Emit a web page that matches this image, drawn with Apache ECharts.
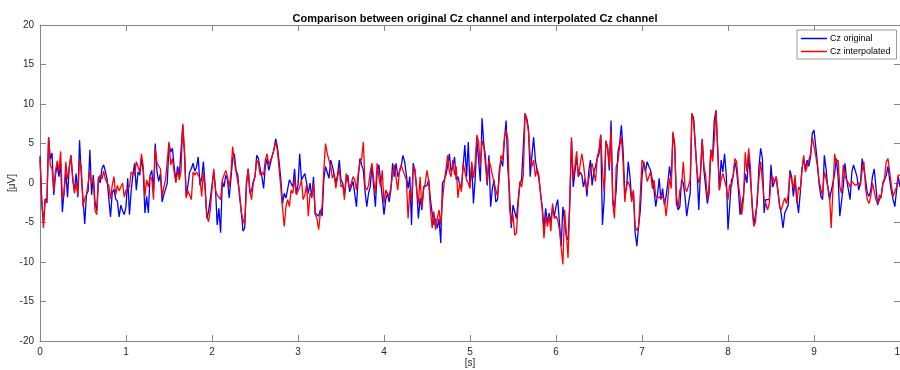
<!DOCTYPE html>
<html>
<head>
<meta charset="utf-8">
<script src="https://cdn.jsdelivr.net/npm/echarts@6/dist/echarts.min.js"></script>
<style>html,body{margin:0;padding:0;background:#fff}#c{width:900px;height:370px}</style>
</head>
<body>
<div id="c"></div>
<script>
const sampleRate = 50; // samples per second (0.02 s step)
const xTicks = [0,1,2,3,4,5,6,7,8,9,10];
const yTicks = [-20,-15,-10,-5,0,5,10,15,20];
const seriesNames = ['Cz original', 'Cz interpolated'];

const original = [
 3.4,-2.5,-5.0,-2.0,-2.5,5.8,3.0,3.8,-1.5,1.0,2.3,0.8,2.5,-3.7,-1.0,1.5,-1.8,2.0,3.5,0.5,-1.0,1.2,-1.8,5.4,1.0,-2.0,-5.2,-1.5,-1.0,4.2,-1.5,1.0,-2.5,-3.5,0.8,0,1.8,2.3,1.5,0.5,-2.0,-4.3,-1.2,-0.8,-2.0,-2.3,-4.3,-2.8,-3.5,-4.0,
 -3.0,0.6,-4.0,-1.0,1.0,2.5,-0.9,1.4,1.0,3.1,1.5,-3.8,-1.7,-3.8,1.0,1.6,-1.0,5.0,1.5,0.2,1.2,-2.4,-1.5,-1.7,0.0,5.0,3.9,4.4,2.0,0.4,2.1,1.0,1.0,7.3,3.7,-1.7,-0.3,1.4,1.8,2.5,1.5,2.0,3.3,-0.3,0.6,2.7,-0.3,-4.5,-3.6,-2.0,
 -2.1,1.4,-0.5,-5.3,-3.2,-6.3,0.2,-0.5,1.0,0.4,-1.9,0.5,3.1,3.7,1.6,1.0,-1.7,-3.4,-6.1,-5.7,0,1.8,-1.3,-0.9,0.2,0.8,3.5,3.1,1.8,0.8,-0.7,2.1,3.1,1.6,2.5,3.5,4.2,5.6,4.6,2.7,0.5,-2.6,-1.3,-1.9,-1.7,0.4,0.2,-0.5,1.8,-1.3,
 -0.3,3.7,0.4,0.2,1.2,0,-1.3,0,-1.9,0.8,-3.8,-4.0,-4.2,-3.4,-4.2,0.4,2.1,2.3,0.6,2.9,2.1,2.3,0,1.0,2.9,0.4,0,-1.5,0.4,1.0,-1.1,-0.9,0.2,0,-3.0,0.6,3.1,2.3,1.6,-1.1,-3.0,-1.3,-0.5,2.3,-0.5,-3.0,1.4,2.3,0.4,0.6,
 -4.0,-2.1,-1.3,-2.4,-0.9,2.5,0.8,2.5,0.8,1.4,2.1,3.5,2.7,1.0,-0.7,0.8,-5.3,2.5,1.4,-0.7,-4.5,-1.9,-3.4,-0.5,-0.7,-0.3,0.4,-2.1,-3.8,-5.3,-4.5,-5.7,-4.5,-7.6,0,0.4,1.0,2.1,3.7,1.4,2.0,3.3,0.4,0.8,-0.2,-0.7,2.1,4.8,0.8,5.2,
 -0.5,2.3,-2.6,0.5,5.4,2.9,0.2,8.2,5.0,3.3,-0.3,3.5,-3.0,-0.7,0.4,-2.4,-2.1,1.6,2.9,2.1,5.4,7.9,1.8,-1.3,-5.7,-2.8,-3.0,-4.5,-2.1,-0.2,0.5,0.4,8.8,8.2,6.9,0.8,3.5,5.8,2.9,1.6,0.6,-1.3,-3.0,-5.7,-3.2,-5.1,-3.8,-4.9,-3.0,-4.2,
 -3.0,-2.1,-1.9,-8.0,-3.0,-3.0,-6.8,-7.2,-2.6,5.4,-0.5,-0.7,3.3,0.8,1.4,1.0,-0.5,0.6,-1.7,1.4,2.9,-0.3,1.4,2.1,3.1,3.7,6.1,-5.3,-2.1,5.2,4.6,1.6,7.9,-2.1,-3.2,-0.9,3.9,5.0,7.3,4.2,-1.3,-0.7,2.7,0.8,-2.1,-1.1,-6.3,-8.0,-5.5,-3.5,
 0.8,2.7,1.4,2.7,2.1,1.6,0.4,-0.9,-3.0,-1.5,0.6,-2.1,-0.7,-2.8,-1.7,0,2.1,0.4,6.3,5.0,-2.6,-3.4,-3.0,0.4,0,-1.7,-4.2,-2.6,-1.3,8.8,8.2,5.0,1.4,-3.4,1.4,5.6,1.6,1.6,-2.6,-1.3,4.2,3.1,7.9,9.2,4.4,-0.9,2.9,1.4,3.7,1.0,
 -5.9,-2.8,0.4,0.8,2.7,1.6,-0.7,-4.0,-4.2,-1.5,1.2,0,3.5,0.6,-2.4,-5.3,-4.0,-2.6,2.1,4.4,3.1,-3.8,-2.1,-1.9,-2.1,2.3,-0.5,-0.7,0.8,-0.9,-2.8,-4.0,-5.7,-3.8,-4.0,-2.8,1.6,0.8,-1.7,0.4,-1.9,-3.8,-1.3,1.8,3.1,1.8,2.9,2.1,3.3,6.3,
 6.7,4.6,2.5,-0.2,-1.7,-2.1,3.5,1.8,-0.5,-2.1,-2.1,0,1.2,3.1,0.8,-4.2,-4.0,-0.5,2.5,0.4,0.4,-2.1,1.4,2.3,2.5,0.8,-0.9,0,3.1,3.1,0.4,-1.3,-1.7,-0.9,0.8,1.8,-0.5,-2.8,-2.1,-1.7,-0.2,0.4,1.0,2.1,0.4,-1.1,-2.1,-3.0,-0.9,0.8,
 -0.5
];

const interpolated = [
 3.0,-2.0,-5.7,-2.2,-2.5,5.8,2.2,1.8,-1.0,1.5,2.8,1.5,4.0,-2.0,-1.5,2.7,0.5,1.8,3.5,0.8,-1.3,0,-1.5,3.0,2.0,-3.0,-2.0,-1.5,-1.5,1.5,0,0.5,-3.5,-4.0,0.5,1.0,0.5,1.5,0.5,0,-0.3,-2.0,-0.3,0.8,-1.5,-0.3,-1.0,-0.5,0,-1.8,
 -0.9,-1.0,-0.5,1.4,1.2,1.0,2.7,2.5,1.4,3.7,2.1,-1.7,0.4,-0.5,0.8,0.5,-2.1,4.4,2.5,2.3,1.8,-1.7,-0.5,0.4,0.6,5.2,2.3,3.1,1.4,0,1.6,0.4,1.5,7.5,4.2,-1.9,-1.0,-1.1,-2.1,1.4,1.0,1.4,1.0,0.6,-1.7,1.4,-0.9,-4.2,-4.9,-3.4,
 -3.4,1.8,-0.9,-1.5,-1.5,-2.1,0.4,0.6,1.6,0.8,-0.5,1.2,4.6,2.7,1.4,1.6,-1.1,-3.8,-3.8,-5.3,-0.5,1.8,-0.9,-2.1,0,0.8,2.9,2.5,1.0,1.4,1.0,2.9,3.7,2.3,2.9,3.3,4.2,5.2,4.2,1.8,-0.5,-3.2,-5.5,-3.0,-2.1,-3.0,-0.9,-1.3,0.6,-1.5,
 -1.7,-0.5,0.4,-2.1,-1.5,-0.2,-4.2,-1.3,-1.7,0,-4.0,-4.5,-5.9,-3.8,-3.0,1.6,5.0,3.7,2.9,2.1,0.6,1.2,-0.7,0.8,1.8,-0.5,-0.2,-2.1,1.2,1.4,-0.7,0,0.8,0.4,-0.9,1.2,2.5,3.1,5.2,-0.5,-0.9,-0.3,1.4,2.5,0.4,-1.3,2.5,0.8,-0.5,1.6,
 -2.6,-0.9,-0.9,-1.7,-0.5,1.0,2.3,2.1,-0.9,1.6,2.3,1.6,1.8,0.4,-4.5,-0.9,-2.1,2.1,1.8,-0.9,-2.6,0.8,-3.2,-0.9,0,1.6,0.2,-3.4,-5.7,-3.6,-5.9,-4.5,-3.4,-5.3,-2.1,0,0,3.5,1.4,0.8,2.9,1.0,2.1,-1.9,0,-1.1,2.5,2.3,0.4,0,
 -0.7,2.7,0.6,2.5,6.1,5.2,2.1,5.4,4.6,2.3,0,2.9,2.1,1.0,1.0,-0.9,-1.7,0.6,3.5,2.9,5.8,6.7,5.6,-3.2,-5.1,-4.0,-6.6,-6.3,-2.8,0.2,-0.5,1.0,8.8,7.9,6.5,3.3,2.1,2.9,0.8,1.8,1.0,-1.3,-3.4,-7.0,-4.2,-5.5,-4.2,-6.1,-2.6,-4.5,
 -4.2,-4.7,-5.9,-8.2,-10.3,-3.4,-6.3,-9.5,-2.6,5.8,0.6,2.1,4.0,0.8,0.8,3.7,2.3,0.4,-0.9,0.4,1.6,2.5,2.3,0.2,3.3,4.2,6.1,1.6,-1.1,5.4,4.4,2.1,6.7,-2.6,-4.5,2.1,2.7,4.6,5.8,2.7,-2.4,-0.3,0.2,-0.5,-2.4,-0.9,-5.5,-6.0,-5.5,-1.5,
 2.9,2.5,1.6,0.2,0.8,1.4,-0.7,0.4,-1.7,-1.5,-1.9,-1.5,-1.7,-2.1,-4.2,-2.1,0.6,-0.7,6.5,4.4,-1.5,-3.2,-0.9,-0.5,2.7,-0.5,-1.1,-1.3,0.4,8.8,7.9,4.4,1.4,0,1.0,5.4,2.1,1.0,-2.1,-0.5,4.2,2.7,5.4,9.2,4.2,-0.9,0.4,1.2,1.0,-0.5,
 -2.1,-0.2,-0.5,1.0,3.1,2.7,0,-1.7,-4.0,-2.1,3.9,1.4,4.4,2.1,-3.0,-5.5,-4.9,-1.7,0.6,2.7,0.2,-2.1,-2.6,-3.4,-2.6,0.4,0.8,0,0.8,-1.1,-3.0,-3.4,-2.6,-1.9,-2.6,-1.5,1.2,0.4,-0.7,1.0,-2.6,-0.5,-0.9,1.6,3.5,1.4,2.1,2.9,3.7,5.8,
 5.8,3.5,2.1,0.2,0,-1.7,1.4,0.6,0.8,-1.5,-5.7,-0.9,3.7,2.5,2.9,-0.5,-1.3,2.3,0.8,0.4,0,-0.5,0.2,0,-0.3,-0.5,0,-0.3,1.6,2.7,-0.7,-2.1,-2.6,-1.7,0,0,-2.1,-2.6,-1.5,-1.9,0,0.6,2.7,3.1,2.9,-0.3,-1.7,-1.9,-0.5,1.0,
 1.0
];

const pairs = arr => arr.map((v, i) => [i / sampleRate, v]);
const axisGray = '#858585';
const labelStyle = { color: '#262626', fontSize: 10, fontFamily: 'Liberation Sans, Arial, sans-serif' };

const chart = echarts.init(document.getElementById('c'), null, { renderer: 'canvas' });
chart.setOption({
  animation: false,
  backgroundColor: '#ffffff',
  title: {
    text: 'Comparison between original Cz channel and interpolated Cz channel',
    left: 470, top: 8, textAlign: 'center',
    textStyle: { fontSize: 11, fontWeight: 'bold', color: '#000', fontFamily: 'Liberation Sans, Arial, sans-serif' }
  },
  legend: {
    data: seriesNames,
    orient: 'vertical',
    left: 797, top: 30,
    icon: 'rect', itemWidth: 26, itemHeight: 1.5, itemGap: 4,
    backgroundColor: '#fff', borderColor: '#9a9a9a', borderWidth: 1, borderRadius: 0,
    padding: [4, 6, 3, 4],
    textStyle: { fontSize: 9, color: '#000', fontFamily: 'Liberation Sans, Arial, sans-serif', padding: [0, 0, 0, -2] }
  },
  grid: { left: 40, right: 0, top: 25, bottom: 29, containLabel: false, outerBoundsMode: 'none' },
  xAxis: [{
    type: 'value', min: xTicks[0], max: xTicks[xTicks.length - 1], interval: 1,
    name: '[s]', nameLocation: 'middle', nameGap: 17, nameMoveOverlap: false,
    nameTextStyle: { color: '#262626', fontSize: 10, fontFamily: 'Liberation Sans, Arial, sans-serif' },
    axisLine: { show: true, onZero: false, lineStyle: { color: axisGray, width: 1 } },
    axisTick: { show: true, inside: true, length: 6, lineStyle: { color: axisGray } },
    axisLabel: Object.assign({ margin: 6 }, labelStyle),
    splitLine: { show: false }
  }, {
    type: 'value', min: xTicks[0], max: xTicks[xTicks.length - 1], interval: 1, position: 'top',
    axisLine: { show: true, onZero: false, lineStyle: { color: axisGray, width: 1 } },
    axisTick: { show: true, inside: true, length: 6, lineStyle: { color: axisGray } },
    axisLabel: { show: false }, splitLine: { show: false }
  }],
  yAxis: [{
    type: 'value', min: yTicks[0], max: yTicks[yTicks.length - 1], interval: 5,
    name: '[μV]', nameLocation: 'middle', nameGap: 23, nameRotate: 90, nameMoveOverlap: false,
    nameTextStyle: { color: '#262626', fontSize: 10, fontFamily: 'Liberation Sans, Arial, sans-serif' },
    axisLine: { show: true, onZero: false, lineStyle: { color: axisGray, width: 1 } },
    axisTick: { show: true, inside: true, length: 6, lineStyle: { color: axisGray } },
    axisLabel: Object.assign({ margin: 6 }, labelStyle),
    splitLine: { show: false }
  }, {
    type: 'value', min: yTicks[0], max: yTicks[yTicks.length - 1], interval: 5, position: 'right',
    axisLine: { show: true, onZero: false, lineStyle: { color: axisGray, width: 1 } },
    axisTick: { show: true, inside: true, length: 6, lineStyle: { color: axisGray } },
    axisLabel: { show: false }, splitLine: { show: false }
  }],
  series: [{
    name: seriesNames[0], type: 'line', data: pairs(original),
    showSymbol: false, symbol: 'none', color: '#0000ff',
    lineStyle: { color: '#0000ff', width: 1.3 }, z: 2
  }, {
    name: seriesNames[1], type: 'line', data: pairs(interpolated),
    showSymbol: false, symbol: 'none', color: '#ff0000',
    lineStyle: { color: '#ff0000', width: 1.3 }, z: 3
  }]
});
</script>
</body>
</html>
